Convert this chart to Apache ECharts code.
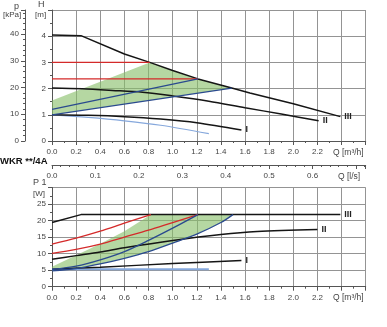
<!DOCTYPE html>
<html><head><meta charset="utf-8">
<script src="https://cdn.jsdelivr.net/npm/echarts@6/dist/echarts.min.js"></script>
<style>html,body{margin:0;padding:0;background:#fff}#c{width:387px;height:327px}</style>
</head><body><div id="c"></div>
<script>
// ---------- tick labels ----------
const qTickLabels = ['0.0','0.2','0.4','0.6','0.8','1.0','1.2','1.4','1.6','1.8','2.0','2.2'];
const lsTickLabels = ['0.0','0.1','0.2','0.3','0.4','0.5','0.6'];
const hTickLabels = ['0','1','2','3','4'];
const pTickLabels = ['0','10','20','30','40'];
const wTickLabels = ['0','5','10','15','20','25'];

// ---------- head H [m] vs Q [m3/h] ----------
const hCurveIII = [[0,4.05],[0.24,4.02],[0.6,3.32],[0.81,3.0],[1.0,2.69],[1.21,2.37],[1.49,2.02],[1.64,1.83],[2.0,1.42],[2.39,0.93]];
const hCurveII  = [[0,2.02],[0.25,1.99],[0.5,1.93],[0.75,1.86],[1.0,1.72],[1.3,1.52],[1.6,1.27],[1.9,1.03],[2.21,0.77]];
const hCurveI   = [[0,1.0],[0.3,0.98],[0.6,0.93],[0.9,0.84],[1.2,0.7],[1.57,0.42]];
const hLightBlue = [[0,1.0],[0.3,0.9],[0.6,0.77],[0.9,0.6],[1.3,0.28]];
const hRedHigh = [[0,3.0],[0.81,3.0]];
const hRedLow  = [[0,2.37],[1.21,2.37]];
const hBlueA = [[0,1.21],[1.21,2.37]];
const hBlueB = [[0,1.0],[1.49,2.02]];
const hGreen = [[0,1.0],[0,1.55],[0.81,3.0],[1.0,2.69],[1.21,2.37],[1.49,2.02],[0,1.0]];

// ---------- power P1 [W] vs Q [m3/h] ----------
const pCurveIII = [[0,19.4],[0.24,21.8],[2.39,21.8]];
const pCurveII  = [[0,8.3],[0.2,9.4],[0.4,10.5],[0.6,11.8],[1.0,14.0],[1.4,15.8],[1.7,16.7],[2.2,17.3]];
const pCurveI   = [[0,5.3],[0.4,5.9],[1.0,7.0],[1.57,7.9]];
const pLightBlue = [[0,5.3],[1.3,5.3]];
const pRedUpper = [[0,12.9],[0.2,14.7],[0.4,16.8],[0.6,19.2],[0.82,21.8]];
const pRedLower = [[0,10.1],[0.2,11.3],[0.4,12.9],[0.6,15.0],[0.8,17.1],[1.0,19.4],[1.21,21.8]];
const pBlueA = [[0,5.2],[0.2,6.2],[0.4,8.1],[0.6,10.6],[0.8,14.0],[1.0,17.7],[1.21,21.8]];
const pBlueB = [[0,4.8],[0.2,5.5],[0.4,6.9],[0.6,8.6],[0.8,10.6],[1.0,13.2],[1.2,15.9],[1.4,19.4],[1.5,21.8]];
const pGreen = [[0,4.8],[0,6.0],[0.4,13.0],[0.6,16.8],[0.82,21.8],[1.5,21.8]].concat(pBlueB.slice().reverse());

const FONT = '"Liberation Sans", Arial, sans-serif';
const AX = '#555', GRIDC = '#949494', TXT = '#444';
const BLACK = '#151515', RED = '#d42a2a', BLUE = '#2a4a8e', LBLUE = '#86a8dc', GREEN = 'rgba(135,190,105,0.62)';

function fmt(arr){ return (v, i) => (arr[i] !== undefined ? arr[i] : ''); }

function xAxisDef(gridIndex, max, labels, showSplit){
  return {
    type:'value', gridIndex, min:0, max, interval: gridIndex===1?0.1:0.2,
    axisLine:{show:true,onZero:false,lineStyle:{color:AX,width:1}},
    axisTick:{show:true,length:4,lineStyle:{color:AX}},
    minorTick:{show:true,splitNumber: gridIndex===1?5:2,length:2,lineStyle:{color:AX}},
    axisLabel:{formatter:fmt(labels),fontSize:8,color:TXT,fontFamily:FONT,margin:7},
    splitLine:{show:showSplit,lineStyle:{color:GRIDC,width:1}}
  };
}
function yAxisDef(gridIndex, max, interval, labels, split, minorN, offset){
  return {
    type:'value', gridIndex, min:0, max, interval, position:'left', offset: offset||0,
    axisLine:{show:true,onZero:false,lineStyle:{color:AX,width:1}},
    axisTick:{show:true,length:4,lineStyle:{color:AX}},
    minorTick:{show:true,splitNumber:minorN,length:2,lineStyle:{color:AX}},
    axisLabel:{formatter:fmt(labels),fontSize:8,color:TXT,fontFamily:FONT,margin:6},
    splitLine:{show:split,lineStyle:{color:GRIDC,width:1}}
  };
}

function line(data, color, width, xi, yi, label, smooth){
  const s = {type:'line', data, xAxisIndex:xi, yAxisIndex:yi, symbol:'none', silent:true,
    smooth: smooth || false,
    lineStyle:{color, width}, z:3};
  if (label) s.endLabel = {show:true, formatter:label, distance:4, fontSize:9, color:'#222', fontFamily:FONT, fontWeight:'bold'};
  return s;
}
function poly(data, xi, yi){
  return {type:'custom', xAxisIndex:xi, yAxisIndex:yi, data, silent:true, z:1,
    encode:{x:0,y:1},
    renderItem:(params, api) => {
      if (params.dataIndex !== 0) return;
      return {type:'polygon', shape:{points: data.map(p => api.coord(p))}, style:{fill:GREEN}};
    }};
}

const chart = echarts.init(document.getElementById('c'), null, {renderer:'canvas'});
chart.setOption({
  animation:false,
  backgroundColor:'#fff',
  grid:[
    {left:52, top:10, width:313.7, height:131},
    {left:52, top:164, width:313.7, height:1},
    {left:52, top:187.5, width:313.7, height:99.2}
  ],
  xAxis:[
    xAxisDef(0, 2.6, qTickLabels, true),
    xAxisDef(1, 2.6/3.6, lsTickLabels, false),
    xAxisDef(2, 2.6, qTickLabels, true)
  ],
  yAxis:[
    yAxisDef(0, 5, 1, hTickLabels, true, 2, 0),
    yAxisDef(0, 5*9.81, 10, pTickLabels, false, 5, 27),
    {type:'value', gridIndex:1, min:0, max:1, show:false},
    yAxisDef(2, 30, 5, wTickLabels, true, 2, 0)
  ],
  graphic:[
    {type:'text', left:14, top:2, style:{text:'p', fontSize:9, fill:TXT, fontFamily:FONT}},
    {type:'text', left:3, top:11, style:{text:'[kPa]', fontSize:8, fill:TXT, fontFamily:FONT}},
    {type:'text', left:38, top:0, style:{text:'H', fontSize:9, fill:TXT, fontFamily:FONT}},
    {type:'text', left:35, top:11, style:{text:'[m]', fontSize:8, fill:TXT, fontFamily:FONT}},
    {type:'text', left:333, top:148, style:{text:'Q [m³/h]', fontSize:8.5, fill:TXT, fontFamily:FONT}},
    {type:'text', left:0, top:156, style:{text:'WKR **/4A', fontSize:9.5, fontWeight:'bold', fill:'#111', fontFamily:FONT}},
    {type:'text', left:338, top:172, style:{text:'Q [l/s]', fontSize:8.5, fill:TXT, fontFamily:FONT}},
    {type:'text', left:33, top:178, style:{text:'P 1', fontSize:9, fill:TXT, fontFamily:FONT}},
    {type:'text', left:33, top:190, style:{text:'[W]', fontSize:8, fill:TXT, fontFamily:FONT}},
    {type:'text', left:333, top:293, style:{text:'Q [m³/h]', fontSize:8.5, fill:TXT, fontFamily:FONT}}
  ],
  series:[
    poly(hGreen, 0, 0),
    line(hLightBlue, LBLUE, 1.2, 0, 0, null, 0.3),
    line(hCurveI, BLACK, 1.5, 0, 0, 'I', 0.3),
    line(hCurveII, BLACK, 1.5, 0, 0, 'II', 0.3),
    line(hCurveIII, BLACK, 1.5, 0, 0, 'III', false),
    line(hRedHigh, RED, 1.3, 0, 0),
    line(hRedLow, RED, 1.3, 0, 0),
    line(hBlueA, BLUE, 1.3, 0, 0),
    line(hBlueB, BLUE, 1.3, 0, 0),

    poly(pGreen, 2, 3),
    line(pLightBlue, LBLUE, 2, 2, 3),
    line(pCurveI, BLACK, 1.5, 2, 3, 'I', 0.3),
    line(pCurveII, BLACK, 1.5, 2, 3, 'II', 0.3),
    line(pCurveIII, BLACK, 1.5, 2, 3, 'III', false),
    line(pRedUpper, RED, 1.3, 2, 3, null, 0.3),
    line(pRedLower, RED, 1.3, 2, 3, null, 0.3),
    line(pBlueA, BLUE, 1.3, 2, 3, null, 0.3),
    line(pBlueB, BLUE, 1.3, 2, 3, null, 0.3)
  ]
});
</script></body></html>
